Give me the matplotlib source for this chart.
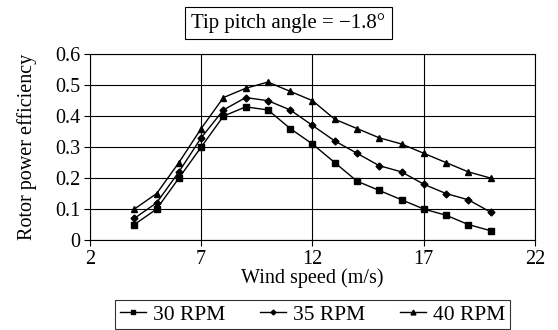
import matplotlib
matplotlib.use("Agg")
import matplotlib.pyplot as plt

wind_speed = [4, 5, 6, 7, 8, 9, 10, 11, 12, 13, 14, 15, 16, 17, 18, 19, 20]
rpm30 = [0.05, 0.10, 0.20, 0.30, 0.40, 0.43, 0.42, 0.36, 0.31, 0.25, 0.19, 0.16, 0.13, 0.10, 0.08, 0.05, 0.03]
rpm35 = [0.07, 0.12, 0.22, 0.33, 0.42, 0.46, 0.45, 0.42, 0.37, 0.32, 0.28, 0.24, 0.22, 0.18, 0.15, 0.13, 0.09]
rpm40 = [0.10, 0.15, 0.25, 0.36, 0.46, 0.49, 0.51, 0.48, 0.45, 0.39, 0.36, 0.33, 0.31, 0.28, 0.25, 0.22, 0.20]
labels = ["30 RPM", "35 RPM", "40 RPM"]
x_ticks = [2, 7, 12, 17, 22]
y_ticks = [0, 0.1, 0.2, 0.3, 0.4, 0.5, 0.6]

plt.rcParams['font.family'] = ['Liberation Serif', 'DejaVu Serif']
fig = plt.figure(figsize=(5.58, 3.3), dpi=100)
ax = fig.add_axes([0.161, 0.2727, 0.798, 0.563])

ax.plot(wind_speed, rpm30, color='black', lw=1, marker='s', ms=5, label=labels[0])
ax.plot(wind_speed, rpm35, color='black', lw=1, marker='D', ms=3.5, label=labels[1])
ax.plot(wind_speed, rpm40, color='black', lw=1, marker='^', ms=5, label=labels[2])

ax.set_xlim(2, 22)
ax.set_ylim(0, 0.6)
ax.set_xticks(x_ticks)
ax.set_yticks(y_ticks)
ax.set_yticklabels(["0", "0.1", "0.2", "0.3", "0.4", "0.5", "0.6"])
ax.grid(True, color='black', lw=0.8)
ax.set_axisbelow(True)
for s in ax.spines.values():
    s.set_linewidth(0.8)
ax.tick_params(axis='both', labelsize=14.5, direction='out', length=4, width=0.8, pad=3)
ax.set_xlabel("Wind speed (m/s)", fontsize=14.5, labelpad=0)
ax.set_ylabel("Rotor power efficiency", fontsize=14.5, labelpad=13)

fig.text(0.517, 0.93, "Tip pitch angle = \u22121.8\u00b0", fontsize=15, ha='center', va='center',
         bbox=dict(boxstyle='square,pad=0.3', fc='white', ec='black', lw=0.8))

leg = fig.legend(loc='center', bbox_to_anchor=(0.56, 0.047), ncol=3, fontsize=15.5, frameon=True,
                 fancybox=False, edgecolor='black', handlelength=1.2, columnspacing=1.6,
                 borderpad=0.2, handletextpad=0.35, markerscale=0.7)
leg.get_frame().set_linewidth(0.8)

fig.savefig("out.png", dpi=100)
